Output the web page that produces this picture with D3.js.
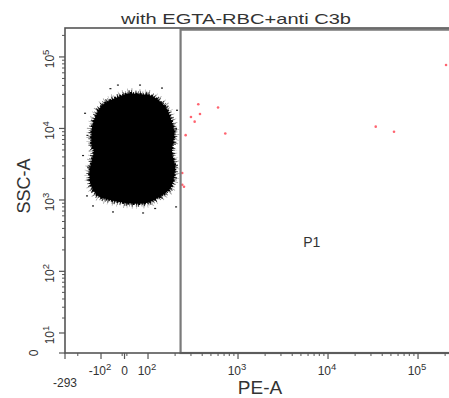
<!DOCTYPE html>
<html>
<head>
<meta charset="utf-8">
<script src="https://cdn.jsdelivr.net/npm/d3@7"></script>
<style>
    html, body { margin: 0; padding: 0; background: #fff; }
    svg text { font-family: "Liberation Sans", Arial, sans-serif; fill: #333; }
</style>
</head>
<body>
<svg id="chart" width="449" height="398"></svg>
<script>
// ---- data (PE-A, SSC-A) ----
const title = "with EGTA-RBC+anti C3b";
const xLabel = "PE-A";
const yLabel = "SSC-A";

// outline of the dense black population
const blobOutline = [
    [11, 30500], [66, 30000], [111, 28330], [160, 19200], [196, 9106],
    [185, 4756], [200, 2740], [176, 1434], [103, 930], [11, 900],
    [-103, 1100], [-135, 1580], [-141, 2487], [-124, 4756], [-133, 5780],
    [-129, 11050], [-95, 21150],
];

// stray black events round the population
const blackEvents = [
    [-161, 16300], [-171, 4180], [-152, 1140], [-127, 825], [-49, 680],
    [79, 658], [205, 800], [-28, 40400], [66, 40400], [143, 36700],
    [210, 17960], [205, 10030], [-150, 8000], [-60, 36000], [120, 760],
];

// red events (in / near gate P1)
const redEvents = [
    [362, 21840], [600, 19620], [378, 15940], [300, 14460], [330, 12450],
    [262, 8060], [722, 8520], [33900, 10600], [54100, 9000], [240, 2385],
    [240, 1631], [251, 1529], [204800, 77300],
];

// gate P1: [xmin, ymin, xmax, ymax]
const gateP1 = [230, 0, 262144, 240600];
const gateLabelPos = [5300, 222];

const xTickValues = [-293, -100, 0, 100, 1000, 10000, 100000];
const xTickText = [["-293", ""], ["-10", "2"], ["0", ""], ["10", "2"], ["10", "3"], ["10", "4"], ["10", "5"]];
const yTickValues = [0, 10, 100, 1000, 10000, 100000];
const yTickText = [["0", ""], ["10", "1"], ["10", "2"], ["10", "3"], ["10", "4"], ["10", "5"]];

const xMin = -293, xMax = 262144, yMax = 262144;

// ---- display transforms (biex-like for x, asinh for y) ----
const xU = (v) => {
    if (v >= 100) return Math.log10(v);
    if (v >= -100) return 2 + (v - 100) * 0.0026111;
    return 1.4778 - 0.857 * Math.log10(-v / 100);
};
const yU = (v) => Math.asinh(v / 14.5) / Math.LN10;

const svg = d3.select("#chart");
const x = d3.scaleLinear().domain([xU(xMin), xU(xMax)]).range([65, 455.7]);
const y = d3.scaleLinear().domain([yU(0), yU(yMax)]).range([353, 27]);
const px = (v) => x(xU(v));
const py = (v) => y(yU(v));

// title + axis titles
svg.append("text")
    .attr("x", 236).attr("y", 24)
    .attr("text-anchor", "middle")
    .attr("font-size", 14.5)
    .attr("textLength", 230)
    .attr("lengthAdjust", "spacingAndGlyphs")
    .text(title);

svg.append("text")
    .attr("x", 260).attr("y", 394)
    .attr("text-anchor", "middle")
    .attr("font-size", 19)
    .text(xLabel);

svg.append("text")
    .attr("transform", "translate(30,186) rotate(-90)")
    .attr("text-anchor", "middle")
    .attr("font-size", 18)
    .text(yLabel);

// population: solid core, speckled rim from irregular dashes
const blobLine = d3.line()
    .curve(d3.curveCardinalClosed.tension(0.2))
    .x((d) => px(d[0]))
    .y((d) => py(d[1]));

const pop = svg.append("g");
pop.append("path")
    .attr("d", blobLine(blobOutline))
    .attr("fill", "none")
    .attr("stroke", "#000")
    .attr("stroke-width", 10)
    .attr("stroke-dasharray", "0.7 4.3 0.5 2.9 0.8 6.1 0.5 3.7")
    .attr("opacity", 0.4);
pop.append("path")
    .attr("d", blobLine(blobOutline))
    .attr("fill", "none")
    .attr("stroke", "#000")
    .attr("stroke-width", 6)
    .attr("stroke-dasharray", "1 1.7 0.6 2.4 1.3 1.1 0.7 3.2")
    .attr("opacity", 0.75);
pop.append("path")
    .attr("d", blobLine(blobOutline))
    .attr("fill", "#000")
    .attr("stroke", "#000")
    .attr("stroke-width", 2.5)
    .attr("stroke-dasharray", "2 1 1 1.5");

pop.selectAll("rect.ev")
    .data(blackEvents)
    .join("rect")
    .attr("class", "ev")
    .attr("x", (d) => px(d[0]) - 1)
    .attr("y", (d) => py(d[1]) - 0.6)
    .attr("width", 2)
    .attr("height", 1.2)
    .attr("fill", "#222");

svg.append("g").selectAll("circle")
    .data(redEvents)
    .join("circle")
    .attr("cx", (d) => px(d[0]))
    .attr("cy", (d) => py(d[1]))
    .attr("r", 1.3)
    .attr("fill", "#f23")
    .attr("opacity", 0.7);

// gate P1
svg.append("rect")
    .attr("x", px(gateP1[0]))
    .attr("y", py(gateP1[3]))
    .attr("width", px(gateP1[2]) + 20 - px(gateP1[0]))
    .attr("height", py(gateP1[1]) - py(gateP1[3]))
    .attr("fill", "none")
    .attr("stroke", "#7a7a7a")
    .attr("stroke-width", 2.2);

svg.append("text")
    .attr("x", px(gateLabelPos[0]))
    .attr("y", py(gateLabelPos[1]))
    .attr("font-size", 14)
    .attr("fill", "#222")
    .text("P1");

// frame
svg.append("rect")
    .attr("x", 65).attr("y", 28)
    .attr("width", 420).attr("height", 325)
    .attr("fill", "none")
    .attr("stroke", "#555")
    .attr("stroke-width", 1.6);

// ---- ticks ----
const decadesMinor = (lo, hi) => {
    const out = [];
    for (let e = lo; e <= hi; e++) {
        for (let k = 2; k <= 9; k++) out.push(k * Math.pow(10, e));
    }
    return out;
};

const yMinor = decadesMinor(1, 5).filter((v) => v < yMax);
const xMinor = decadesMinor(2, 5).filter((v) => v < xMax).concat([-200, -10, 10]);

const ticks = svg.append("g").attr("stroke", "#555");
ticks.selectAll("line.ymaj").data(yTickValues).join("line")
    .attr("x1", 59).attr("x2", 65)
    .attr("y1", (d) => py(d)).attr("y2", (d) => py(d))
    .attr("stroke-width", 1.2);
ticks.selectAll("line.ymin").data(yMinor).join("line")
    .attr("x1", 62).attr("x2", 65)
    .attr("y1", (d) => py(d)).attr("y2", (d) => py(d))
    .attr("stroke-width", 1);
ticks.selectAll("line.xmaj").data(xTickValues).join("line")
    .attr("x1", (d) => px(d)).attr("x2", (d) => px(d))
    .attr("y1", 353).attr("y2", 359)
    .attr("stroke-width", 1.2);
ticks.selectAll("line.xmin").data(xMinor).join("line")
    .attr("x1", (d) => px(d)).attr("x2", (d) => px(d))
    .attr("y1", 353).attr("y2", 356)
    .attr("stroke-width", 1);

// y tick labels (rotated, exponent as superscript)
yTickValues.forEach((v, i) => {
    const [base, exp] = yTickText[i];
    const t = svg.append("text")
        .attr("transform", `translate(${v === 0 ? 37.5 : 53.5},${py(v) + (exp ? 2 : 0)}) rotate(-90)`)
        .attr("text-anchor", "middle")
        .attr("font-size", 12);
    t.append("tspan").text(base);
    if (exp) t.append("tspan").attr("dy", -5).attr("font-size", 9.5).text(exp);
});

// x tick labels
xTickValues.forEach((v, i) => {
    const [base, exp] = xTickText[i];
    const t = svg.append("text")
        .attr("x", px(v) + (exp ? -1 : 0))
        .attr("y", v === xMin ? 387 : 375)
        .attr("text-anchor", "middle")
        .attr("font-size", 12);
    t.append("tspan").text(base);
    if (exp) t.append("tspan").attr("dy", -5).attr("font-size", 9.5).text(exp);
});
</script>
</body>
</html>
